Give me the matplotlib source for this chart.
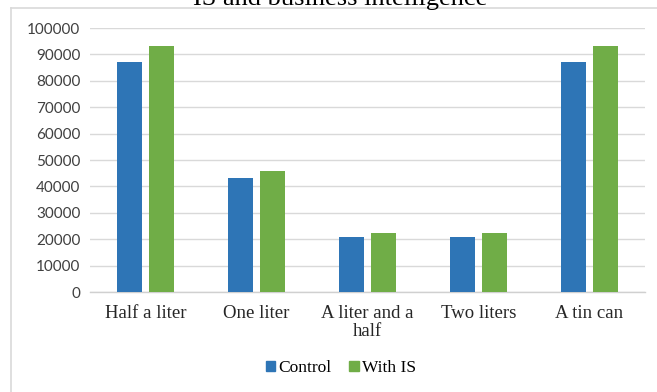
import matplotlib
matplotlib.use("Agg")
import matplotlib.pyplot as plt
import numpy as np
from matplotlib.patches import Patch
from matplotlib.lines import Line2D

categories = ["Half a liter", "One liter", "A liter and a\nhalf", "Two liters", "A tin can"]
control = [87000, 43000, 21000, 21000, 87000]
with_is = [93000, 46000, 22500, 22500, 93000]
yticks = [0, 10000, 20000, 30000, 40000, 50000, 60000, 70000, 80000, 90000, 100000]

plt.rcParams["font.family"] = ["Liberation Serif", "DejaVu Serif"]

W, H = 657, 392
fig = plt.figure(figsize=(W / 100, H / 100), dpi=100)
fig.patch.set_facecolor("white")

# chart frame (left and top edges)
frame_col = "#D9D9D9"
fig.add_artist(Line2D([11 / W, 11 / W], [0, 1 - 8 / H], transform=fig.transFigure,
                      color=frame_col, lw=1.2))
fig.add_artist(Line2D([11 / W, 1], [1 - 8 / H, 1 - 8 / H], transform=fig.transFigure,
                      color=frame_col, lw=1.2))

# title, partly clipped by the top edge
fig.text(340 / W, 1 - 5 / H, "IS and business intelligence", ha="center", va="baseline",
         fontsize=19, color="black")

ax = fig.add_axes([90 / W, 1 - 292 / H, (645 - 90) / W, (292 - 28) / H])
x = np.arange(len(categories))
bw = 0.225
off = 0.144
ax.bar(x - off, control, width=bw, color="#2E75B6", label="Control", zorder=3)
ax.bar(x + off, with_is, width=bw, color="#70AD47", label="With IS", zorder=3)

ax.set_xlim(-0.5, len(categories) - 0.5)
ax.set_ylim(0, 100000)
ax.set_yticks(yticks)
ax.set_yticklabels([str(v) for v in yticks], family=["Lato", "DejaVu Sans"])
ax.set_xticks(x)
ax.set_xticklabels(categories, linespacing=1.15)
ax.tick_params(axis="y", length=0, pad=7, labelsize=11, labelcolor="#404040")
ax.tick_params(axis="x", length=0, pad=9, labelsize=13.5, labelcolor="#262626")
ax.grid(axis="y", color="#D9D9D9", lw=1.0, zorder=0)
for s in ["left", "right", "top"]:
    ax.spines[s].set_visible(False)
ax.spines["bottom"].set_color("#D0D0D0")
ax.spines["bottom"].set_linewidth(1.0)

handles = [Patch(color="#2E75B6", label="Control"), Patch(color="#70AD47", label="With IS")]
fig.legend(handles=handles, loc="center", bbox_to_anchor=(341 / W, 1 - 368 / H), ncol=2,
           frameon=False, fontsize=12.5, handlelength=0.55, handleheight=0.55,
           handletextpad=0.2, columnspacing=1.0)

fig.savefig("out.png", dpi=100)
